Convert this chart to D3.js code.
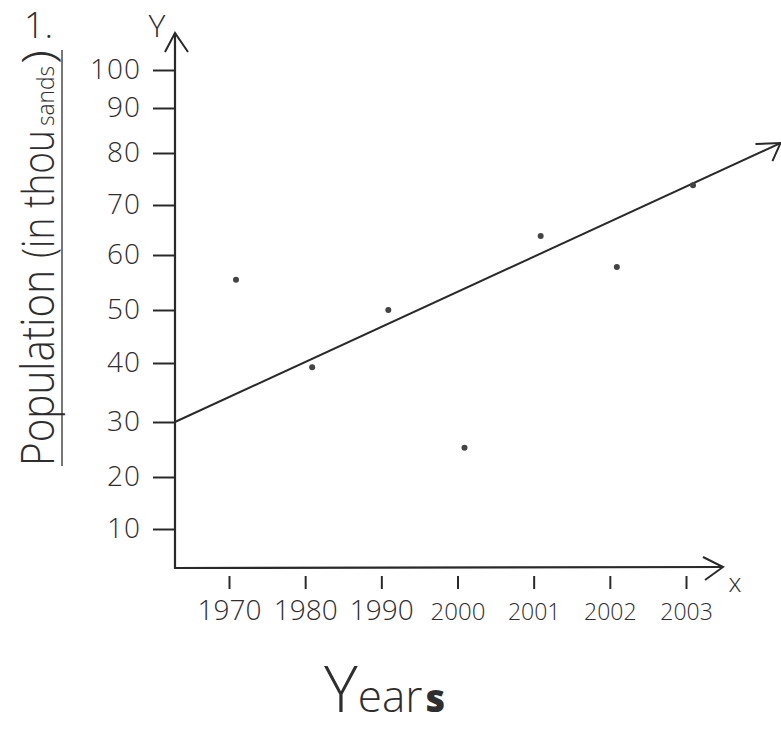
<!DOCTYPE html>
<html>
<head>
<meta charset="utf-8">
<script src="https://cdn.jsdelivr.net/npm/d3@7"></script>
<style>
  html, body { margin: 0; padding: 0; background: #fff; }
  svg { display: block; }
  text { font-family: "Open Sans", "DejaVu Sans", sans-serif; font-weight: 300; fill: #2e2e2e; }
</style>
</head>
<body>
<svg id="chart" width="781" height="731"></svg>
<script>
// ---- data ----
const years = ["1970", "1980", "1990", "2000", "2001", "2002", "2003"];
const population = [55.5, 39.3, 50, 25.3, 63.8, 57.8, 73.8];   // thousands
const yTickValues = [10, 20, 30, 40, 50, 60, 70, 80, 90, 100];
const trendX = [-0.71, 7.24];     // in category-index units
const trendY = [30, 82.2];        // thousands
const yTitleParts = ["Population", "(in thou", "sands", ")"];
const xTitle = ["Y", "ear", "s"];

// ---- layout ----
const svg = d3.select("#chart");
const ink = "#2a2a2a";
const originX = 175, originY = 568;

const x = d3.scaleLinear().domain([0, years.length - 1]).range([229, 686]);
// hand-drawn axis: uneven spacing between the marks
const y = d3.scaleLinear()
  .domain([0, 10, 20, 30, 40, 50, 60, 70, 80, 90, 100])
  .range([568, 529, 477, 422, 363, 310, 255, 205, 153, 108, 70]);

// y axis
const yAxis = svg.append("g")
  .attr("transform", `translate(${originX},0)`)
  .call(d3.axisLeft(y).tickValues(yTickValues).tickSize(22).tickPadding(12).tickFormat(d3.format("d")));
yAxis.select(".domain").remove();
yAxis.selectAll(".tick line").attr("stroke", ink).attr("stroke-width", 2);
yAxis.selectAll(".tick text").attr("font-size", 28).attr("fill", "#2e2e2e").attr("letter-spacing", 1)
  .style("font-family", '"Open Sans", sans-serif').style("font-weight", 300);

svg.append("line").attr("x1", originX).attr("y1", originY + 1).attr("x2", originX).attr("y2", 33)
  .attr("stroke", ink).attr("stroke-width", 2.2);
svg.append("path").attr("d", `M${originX - 10},52 L${originX},33 L${originX + 13},52`)
  .attr("fill", "none").attr("stroke", ink).attr("stroke-width", 2);
svg.append("text").attr("x", 157).attr("y", 37).attr("text-anchor", "middle")
  .attr("font-size", 32).text("Y");

// x axis
const xAxis = svg.append("g")
  .attr("transform", `translate(0,${originY})`)
  .call(d3.axisBottom(x).tickValues(d3.range(years.length)).tickSize(0).tickFormat(i => years[i]));
xAxis.select(".domain").remove();
xAxis.selectAll(".tick").append("line")
  .attr("x1", 0).attr("x2", 0).attr("y1", 8).attr("y2", 21)
  .attr("stroke", ink).attr("stroke-width", 2);
xAxis.selectAll(".tick text")
  .attr("y", 52).attr("dy", 0)
  .attr("font-size", (d) => +years[d] < 2000 ? 28 : (+years[d] === 2000 ? 24 : 23))
  .attr("fill", "#2e2e2e")
  .style("font-family", '"Open Sans", sans-serif').style("font-weight", 300);

svg.append("line").attr("x1", originX - 1).attr("y1", originY).attr("x2", 723).attr("y2", 567)
  .attr("stroke", ink).attr("stroke-width", 2.2);
svg.append("path").attr("d", `M703,557 L723,567 L705,580`)
  .attr("fill", "none").attr("stroke", ink).attr("stroke-width", 2);
svg.append("text").attr("x", 735).attr("y", 592).attr("text-anchor", "middle")
  .attr("font-size", 26).text("x");

// trend line with arrow head
const tx0 = x(trendX[0]), ty0 = y(trendY[0]);
const tx1 = x(trendX[1]), ty1 = y(trendY[1]);
svg.append("line").attr("x1", tx0).attr("y1", ty0).attr("x2", tx1).attr("y2", ty1)
  .attr("stroke", ink).attr("stroke-width", 2);
svg.append("path").attr("d", `M${tx1 - 25},${ty1 + 1} L${tx1},${ty1} L${tx1 - 8},${ty1 + 18}`)
  .attr("fill", "none").attr("stroke", ink).attr("stroke-width", 2);

// data points (small pencil dots, drawn slightly right of the ticks)
svg.append("g").attr("transform", "translate(7,0)")
  .selectAll("circle").data(population).join("circle")
  .attr("cx", (d, i) => x(i)).attr("cy", d => y(d))
  .attr("r", 3).attr("fill", "#444");

// y title (rotated) + underline
svg.append("line").attr("x1", 62).attr("y1", 50).attr("x2", 62).attr("y2", 466)
  .attr("stroke", "#555").attr("stroke-width", 1.6);
const yTitleSpec = [
  { t: yTitleParts[0], y0: 466, len: 196, fs: 46 },
  { t: yTitleParts[1], y0: 258, len: 128, fs: 44 },
  { t: yTitleParts[2], y0: 126, len: 60, fs: 24 },
  { t: yTitleParts[3], y0: 64, len: 14, fs: 44 }
];
yTitleSpec.forEach(s => {
  svg.append("text")
    .attr("transform", `translate(54,${s.y0}) rotate(-90)`)
    .attr("font-size", s.fs)
    .text(s.t)
    .attr("textLength", s.len).attr("lengthAdjust", "spacingAndGlyphs");
});
svg.append("text").attr("x", 24).attr("y", 38).attr("font-size", 36).text("1.");

// x title
const xt = svg.append("text").attr("x", 324).attr("y", 712);
xt.append("tspan").attr("font-size", 64).text(xTitle[0]);
xt.append("tspan").attr("font-size", 44).text(xTitle[1]);
xt.append("tspan").attr("font-size", 38).attr("dx", 3).style("font-weight", 800).text(xTitle[2]);
</script>
</body>
</html>
